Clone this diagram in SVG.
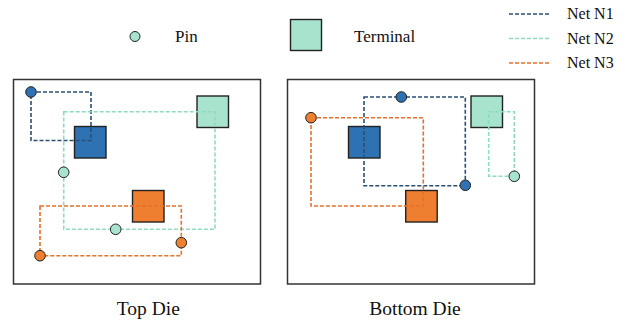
<svg xmlns="http://www.w3.org/2000/svg" width="627" height="320" viewBox="0 0 627 320">
  <style>
    text { font-family: "Liberation Serif", "Times New Roman", serif; fill: #111; }
    .lg { font-size: 17px; }
    .lgn { font-size: 16px; }
    .title { font-size: 19.5px; }
    .panel { fill: #fff; stroke: #333; stroke-width: 1.5; }
    .term { stroke: #222; stroke-width: 1.4; }
    .pin { stroke: #222; stroke-width: 1; }
    .net { fill: none; stroke-width: 1.6; stroke-dasharray: 4 2; }
    .n1 { stroke: #2a4f75; }
    .n2 { stroke: #8edcc0; }
    .n3 { stroke: #e8702a; }
    .c1 { fill: #2e72b3; }
    .c2 { fill: #a8e3cd; }
    .c3 { fill: #ee7f31; }
  </style>

  <!-- legend -->
  <g id="legend">
    <circle class="pin c2" cx="135" cy="36.5" r="5"/>
    <text class="lg" x="175" y="42">Pin</text>
    <rect class="term c2" x="290.5" y="19.5" width="31" height="31"/>
    <text class="lg" x="354" y="42">Terminal</text>
    <line class="net n1" x1="509" y1="14" x2="551" y2="14"/>
    <text class="lgn" x="567" y="19">Net N1</text>
    <line class="net n2" x1="509" y1="38.5" x2="551" y2="38.5"/>
    <text class="lgn" x="567" y="44">Net N2</text>
    <line class="net n3" x1="509" y1="63" x2="551" y2="63"/>
    <text class="lgn" x="567" y="68">Net N3</text>
  </g>

  <!-- top die -->
  <g id="top-die">
    <rect class="panel" x="13.5" y="79.5" width="247" height="204.5"/>
    <text class="title" x="148.3" y="315" text-anchor="middle">Top Die</text>
  </g>
  <g id="top-terminals">
    <rect class="term c1" x="74.5" y="126.5" width="31.5" height="31.5"/>
    <rect class="term c2" x="197" y="96" width="31.5" height="31.5"/>
    <rect class="term c3" x="132.5" y="190.5" width="31.5" height="31.5"/>
  </g>
  <g id="top-nets">
    <rect class="net n1" x="31" y="92" width="60" height="48.5"/>
    <rect class="net n2" x="63.7" y="111.7" width="151.3" height="117.6"/>
    <rect class="net n3" x="40" y="206" width="141.3" height="49.7"/>
  </g>
  <g id="top-pins">
    <circle class="pin c1" cx="31" cy="92" r="5.3"/>
    <circle class="pin c2" cx="63.7" cy="172.3" r="5.3"/>
    <circle class="pin c2" cx="115.7" cy="229.3" r="5.3"/>
    <circle class="pin c3" cx="40" cy="255.7" r="5.3"/>
    <circle class="pin c3" cx="181.3" cy="242.7" r="5.3"/>
  </g>

  <!-- bottom die -->
  <g id="bottom-die">
    <rect class="panel" x="287.5" y="79.5" width="247" height="204.5"/>
    <text class="title" x="415" y="315" text-anchor="middle">Bottom Die</text>
  </g>
  <g id="bottom-terminals">
    <rect class="term c1" x="348.5" y="126.5" width="31.5" height="31.5"/>
    <rect class="term c2" x="471" y="96" width="31.5" height="31.5"/>
    <rect class="term c3" x="405.7" y="190.5" width="31.5" height="31.5"/>
  </g>
  <g id="bottom-nets">
    <rect class="net n1" x="364" y="97" width="101.3" height="88.7"/>
    <rect class="net n3" x="311" y="117.7" width="112.3" height="88.3"/>
    <rect class="net n2" x="488.7" y="111.7" width="25.6" height="64.6"/>
  </g>
  <g id="bottom-pins">
    <circle class="pin c1" cx="401.3" cy="97" r="5.3"/>
    <circle class="pin c1" cx="465.3" cy="185.3" r="5.3"/>
    <circle class="pin c3" cx="311" cy="117.7" r="5.3"/>
    <circle class="pin c2" cx="514.3" cy="176.3" r="5.3"/>
  </g>
</svg>
